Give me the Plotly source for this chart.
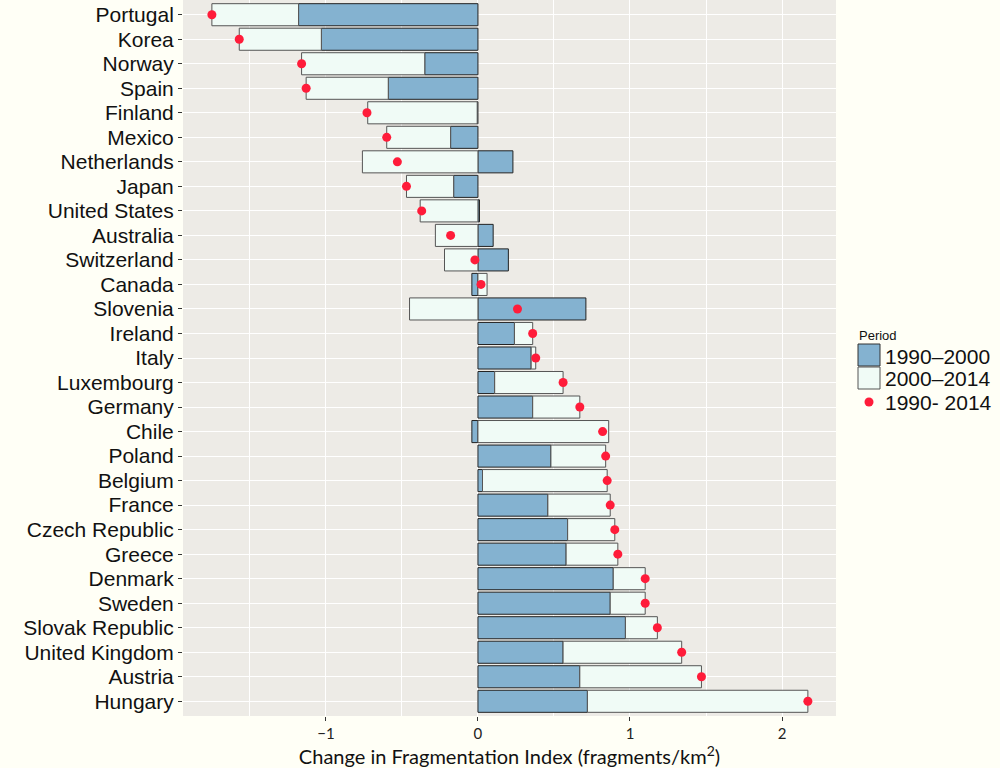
import plotly.graph_objects as go

countries = ["Portugal", "Korea", "Norway", "Spain", "Finland", "Mexico", "Netherlands",
             "Japan", "United States", "Australia", "Switzerland", "Canada", "Slovenia",
             "Ireland", "Italy", "Luxembourg", "Germany", "Chile", "Poland", "Belgium",
             "France", "Czech Republic", "Greece", "Denmark", "Sweden", "Slovak Republic",
             "United Kingdom", "Austria", "Hungary"]

p_1990_2000 = [-1.18, -1.03, -0.35, -0.59, -0.005, -0.18, 0.23, -0.16, 0.01, 0.10, 0.20, -0.04,
               0.71, 0.24, 0.35, 0.11, 0.36, -0.04, 0.48, 0.03, 0.46, 0.59, 0.58, 0.89, 0.87,
               0.97, 0.56, 0.67, 0.72]
p_2000_2014 = [-0.57, -0.54, -0.81, -0.54, -0.72, -0.42, -0.76, -0.31, -0.38, -0.28, -0.22, 0.06,
               -0.45, 0.12, 0.03, 0.45, 0.31, 0.86, 0.36, 0.82, 0.41, 0.31, 0.34, 0.21, 0.23,
               0.21, 0.78, 0.80, 1.45]
p_1990_2014 = [-1.75, -1.57, -1.16, -1.13, -0.73, -0.60, -0.53, -0.47, -0.37, -0.18, -0.02, 0.02,
               0.26, 0.36, 0.38, 0.56, 0.67, 0.82, 0.84, 0.85, 0.87, 0.90, 0.92, 1.10, 1.10,
               1.18, 1.34, 1.47, 2.17]

legend_labels = ["1990\u20132000", "2000\u20132014", "1990- 2014"]
legend_title = "Period"
x_ticks = [-1, 0, 1, 2]

BLUE = "#84B2D0"
LIGHT = "#F0FBF6"
RED = "#FF1C3A"
PANEL = "#EDEBE6"
PAGE = "#FFFFF6"

W, H = 1000, 768
ML, MR, MT, MB = 183, 164, 0, 52
PW, PH = W - ML - MR, H - MT - MB


def px(x):
    return (x - ML) / PW


def py(y):
    return (H - MB - y) / PH


fig = go.Figure()
fig.add_trace(go.Bar(y=countries, x=p_1990_2000, orientation="h", name=legend_labels[0],
                     marker=dict(color=BLUE, line=dict(color="#222222", width=1)),
                     showlegend=False))
fig.add_trace(go.Bar(y=countries, x=p_2000_2014, orientation="h", name=legend_labels[1],
                     marker=dict(color=LIGHT, line=dict(color="#555555", width=1)),
                     showlegend=False))
fig.add_trace(go.Scatter(y=countries, x=p_1990_2014, mode="markers", name=legend_labels[2],
                         marker=dict(color=RED, size=9, line=dict(width=0)),
                         showlegend=False))

shapes = [
    dict(type="rect", xref="paper", yref="paper", x0=px(858), x1=px(880), y0=py(366), y1=py(344),
         fillcolor=BLUE, line=dict(color="#333333", width=1)),
    dict(type="rect", xref="paper", yref="paper", x0=px(858), x1=px(880), y0=py(389), y1=py(367),
         fillcolor=LIGHT, line=dict(color="#555555", width=1)),
    dict(type="circle", xref="paper", yref="paper", x0=px(864.5), x1=px(873.5), y0=py(406.5),
         y1=py(397.5), fillcolor=RED, line=dict(width=0)),
]
annotations = [
    dict(text=legend_title, xref="paper", yref="paper", x=px(857), y=py(335), xanchor="left",
         yanchor="middle", showarrow=False, font=dict(family="Liberation Sans", size=13, color="#111111")),
]
for lab, yy in zip(legend_labels, [356, 378, 402]):
    annotations.append(dict(text=lab, xref="paper", yref="paper", x=px(883), y=py(yy),
                            xanchor="left", yanchor="middle", showarrow=False,
                            font=dict(family="Liberation Sans", size=21, color="#111111")))

fig.update_layout(
    width=W, height=H,
    margin=dict(l=ML, r=MR, t=MT, b=MB),
    paper_bgcolor=PAGE, plot_bgcolor=PANEL,
    barmode="relative", bargap=0.1,
    showlegend=False,
    shapes=shapes, annotations=annotations,
    xaxis=dict(range=[-1.94, 2.355], tickvals=x_ticks, showgrid=True, gridcolor="white",
               gridwidth=1.4, zeroline=False, ticks="outside", ticklen=4, tickcolor="#333333",
               tickfont=dict(family="Lato", size=15, color="#222222"),
               minor=dict(dtick=0.5, tick0=0, showgrid=True, gridcolor="white", gridwidth=0.7,
                          ticks=""),
               title=dict(text="Change in Fragmentation Index (fragments/km<sup>2</sup>)",
                          font=dict(family="Lato", size=20, color="#111111"), standoff=4)),
    yaxis=dict(categoryorder="array", categoryarray=countries, range=[28.6, -0.6],
               tickmode="array", tickvals=countries, ticktext=countries,
               showgrid=True, gridcolor="white", gridwidth=1.4, zeroline=False,
               ticks="outside", ticklen=4, tickcolor="#333333",
               tickfont=dict(family="Liberation Sans", size=21, color="#111111")),
)

fig.write_html("out.html", config={"displayModeBar": False},
               post_script="document.body.style.margin='0px';document.body.style.overflow='hidden';")
